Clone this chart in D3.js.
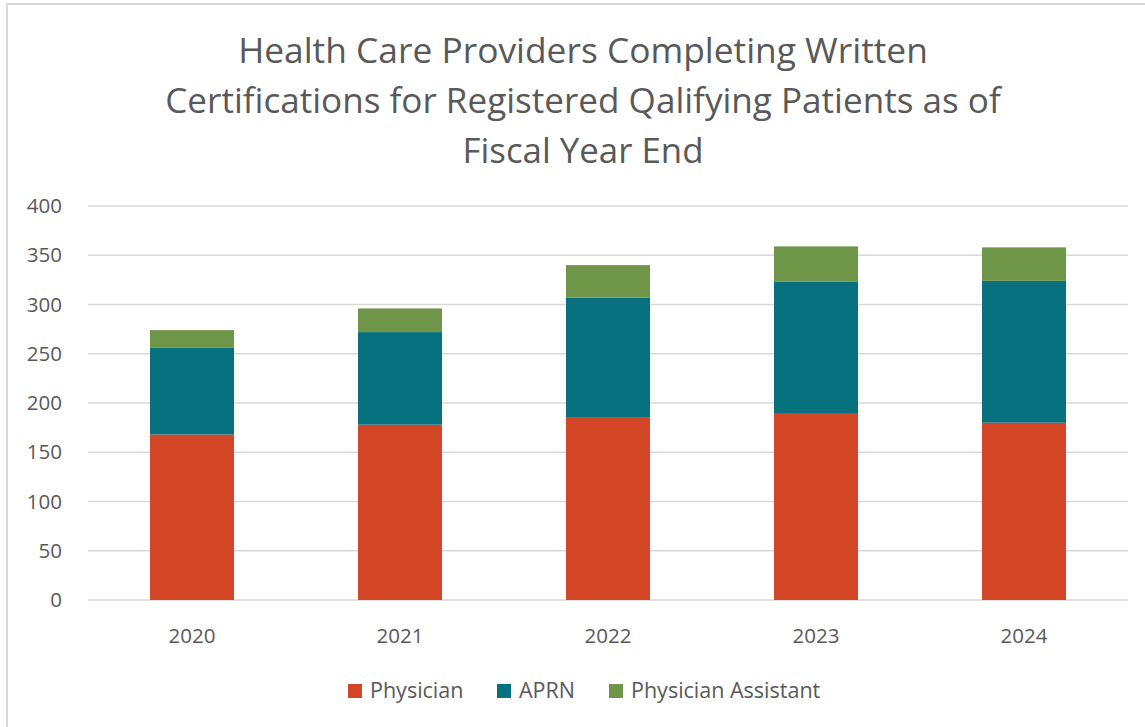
<!DOCTYPE html>
<html><head><meta charset="utf-8">
<script src="https://cdn.jsdelivr.net/npm/d3@7"></script>
<style>body{margin:0;background:#fff;} svg{display:block;}</style>
</head><body>
<svg id="c" width="1145" height="727"></svg>
<script>
const years = ["2020","2021","2022","2023","2024"];
const physician = [168,178,185,189,180];
const aprn = [88,94,122,134,144];
const pa = [18,24,33,36,34];
const seriesNames = ["Physician","APRN","Physician Assistant"];
const colors = ["#D34727","#08717F","#6F9548"];
const yTicks = [0,50,100,150,200,250,300,350,400];
const titleLines = ["Health Care Providers Completing Written","Certifications for Registered Qalifying Patients as of","Fiscal Year End"];

const svg = d3.select("#c");
const font = "'Open Sans', 'Noto Sans', sans-serif";
const textColor = "#595959";

// border
svg.append("path").attr("d","M7,800 V4 H1200").attr("fill","none").attr("stroke","#d9d9d9").attr("stroke-width",2);

// title
const titleWidths = [690, 836, 241];
titleLines.forEach((t,i)=>{
  const tx = svg.append("text").attr("x",583).attr("y",63+i*50).attr("text-anchor","middle")
    .attr("font-family",font).attr("font-size",30).attr("fill",textColor).text(t);
  const w = tx.node().getComputedTextLength();
  tx.attr("font-size", 30*titleWidths[i]/w);
});

const x = d3.scaleBand().domain(years).range([88,1128]).paddingInner(0.596).paddingOuter(0.298);
const y = d3.scaleLinear().domain([0,400]).range([600,206]);

// gridlines
svg.append("g").selectAll("line").data(yTicks).join("line")
  .attr("x1",88).attr("x2",1128).attr("y1",d=>y(d)).attr("y2",d=>y(d))
  .attr("stroke","#d9d9d9").attr("stroke-width",1.3);

// y axis
const yAxis = svg.append("g").attr("transform","translate(88,0)")
  .call(d3.axisLeft(y).tickValues(yTicks).tickSize(0).tickPadding(26));
yAxis.select(".domain").remove();
yAxis.selectAll("text").attr("font-family",font).attr("font-size",20.5).attr("fill",textColor);

// x axis
const xAxis = svg.append("g").attr("transform","translate(0,600)")
  .call(d3.axisBottom(x).tickSize(0).tickPadding(28));
xAxis.select(".domain").remove();
xAxis.selectAll("text").attr("font-family",font).attr("font-size",20.5).attr("fill",textColor);

// stacked bars
const rows = years.map((yr,i)=>({year:yr, Physician:physician[i], APRN:aprn[i], "Physician Assistant":pa[i]}));
const stack = d3.stack().keys(seriesNames)(rows);
svg.append("g").selectAll("g").data(stack).join("g").attr("fill",(d,i)=>colors[i])
  .selectAll("rect").data(d=>d).join("rect")
  .attr("x",d=>x(d.data.year)).attr("width",x.bandwidth())
  .attr("y",d=>y(d[1])).attr("height",d=>y(d[0])-y(d[1]));

// legend
const legX = [348,497,609];
const lg = svg.append("g");
seriesNames.forEach((n,i)=>{
  lg.append("rect").attr("x",legX[i]).attr("y",684).attr("width",14).attr("height",14).attr("fill",colors[i]);
  lg.append("text").attr("x",legX[i]+22).attr("y",698).attr("font-family",font).attr("font-size",21.5)
    .attr("fill",textColor).text(n);
});
</script>
</body></html>
